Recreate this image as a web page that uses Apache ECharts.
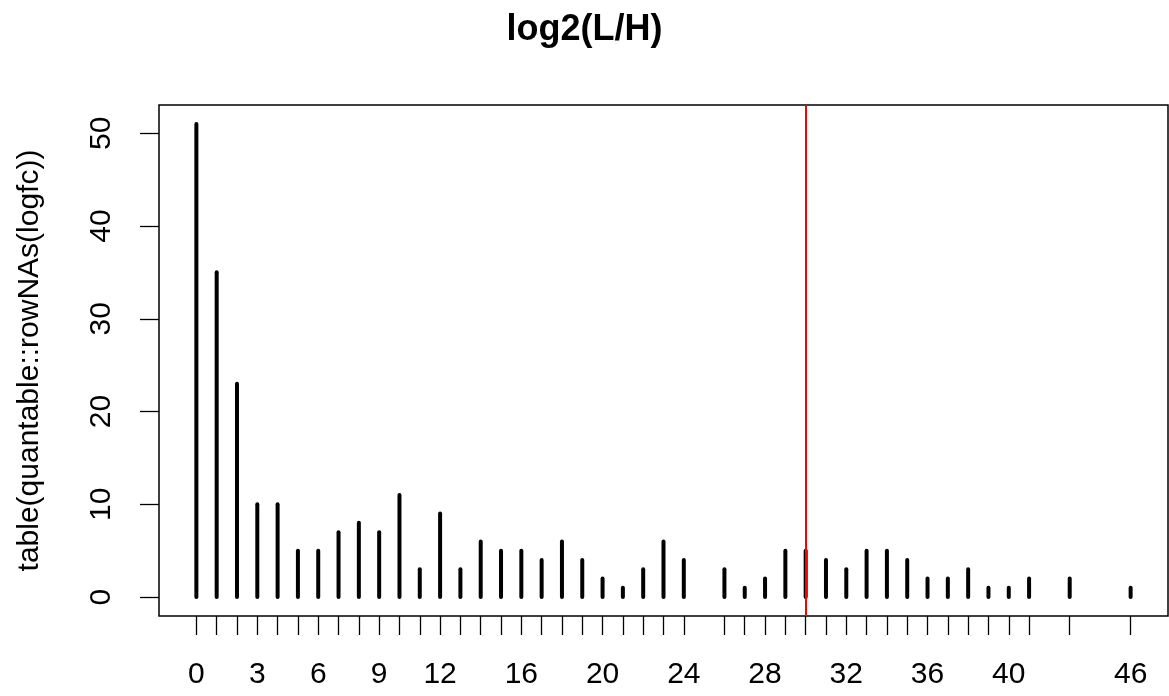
<!DOCTYPE html>
<html>
<head>
<meta charset="utf-8">
<script src="https://cdn.jsdelivr.net/npm/echarts@6/dist/echarts.min.js"></script>
<style>
html,body{margin:0;padding:0;background:#fff;}
#chart{width:1169px;height:696px;}
</style>
</head>
<body>
<div id="chart"></div>
<script>
// Data
const categories = [0,1,2,3,4,5,6,7,8,9,10,11,12,13,14,15,16,17,18,19,20,21,22,23,24,26,27,28,29,30,31,32,33,34,35,36,37,38,39,40,41,43,46];
const counts     = [51,35,23,10,10,5,5,7,8,7,11,3,9,3,6,5,5,4,6,4,2,1,3,6,4,3,1,2,5,5,4,3,5,5,4,2,2,3,1,1,2,2,1];
const xTickLabels = [0,3,6,9,12,16,20,24,28,32,36,40,46];
const yTickLabels = [0,10,20,30,40,50];
const redLineX = 30;
const titleText = 'log2(L/H)';
const yAxisName = 'table(quantable::rowNAs(logfc))';

const FONT = '"Liberation Sans", Arial, Helvetica, sans-serif';
const chart = echarts.init(document.getElementById('chart'), null, {renderer: 'canvas'});

const spikeData = categories.map((c, i) => [c, counts[i]]);

chart.setOption({
  animation: false,
  backgroundColor: '#fff',
  title: {
    text: titleText,
    left: 'center',
    top: 7,
    textStyle: {fontFamily: FONT, fontSize: 36, fontWeight: 'bold', color: '#000'}
  },
  grid: {
    left: 159, right: 1, top: 105, bottom: 80,
    show: true, borderColor: '#000', borderWidth: 1.5, backgroundColor: 'transparent'
  },
  xAxis: {
    type: 'value',
    min: -1.84, max: 47.84,
    axisLine: {show: false, onZero: false},
    splitLine: {show: false},
    axisTick: {show: true, customValues: categories, length: 19, lineStyle: {color: '#000', width: 1.3}},
    axisLabel: {show: true, customValues: xTickLabels, fontFamily: FONT, fontSize: 30, color: '#000', margin: 44}
  },
  yAxis: {
    type: 'value',
    min: -2.04, max: 53.04,
    axisLine: {show: false, onZero: false},
    splitLine: {show: false},
    axisTick: {show: true, customValues: yTickLabels, length: 19, lineStyle: {color: '#000', width: 1.3}},
    axisLabel: {show: true, customValues: yTickLabels, rotate: 90, fontFamily: FONT, fontSize: 30, color: '#000', margin: 42},
    name: yAxisName,
    nameLocation: 'middle',
    nameGap: 114,
    nameRotate: 90,
    nameTextStyle: {fontFamily: FONT, fontSize: 30, color: '#000'}
  },
  series: [{
    type: 'custom',
    data: spikeData,
    renderItem: function (params, api) {
      const x = api.value(0), v = api.value(1);
      const p0 = api.coord([x, 0]);
      const p1 = api.coord([x, v]);
      return {
        type: 'line',
        shape: {x1: p0[0], y1: p0[1], x2: p1[0], y2: p1[1]},
        style: {stroke: '#000', lineWidth: 4, lineCap: 'round'}
      };
    },
    markLine: {
      silent: true,
      symbol: 'none',
      label: {show: false},
      lineStyle: {color: '#ff0000', width: 2, type: 'solid'},
      data: [{xAxis: redLineX}]
    }
  }]
});
</script>
</body>
</html>
